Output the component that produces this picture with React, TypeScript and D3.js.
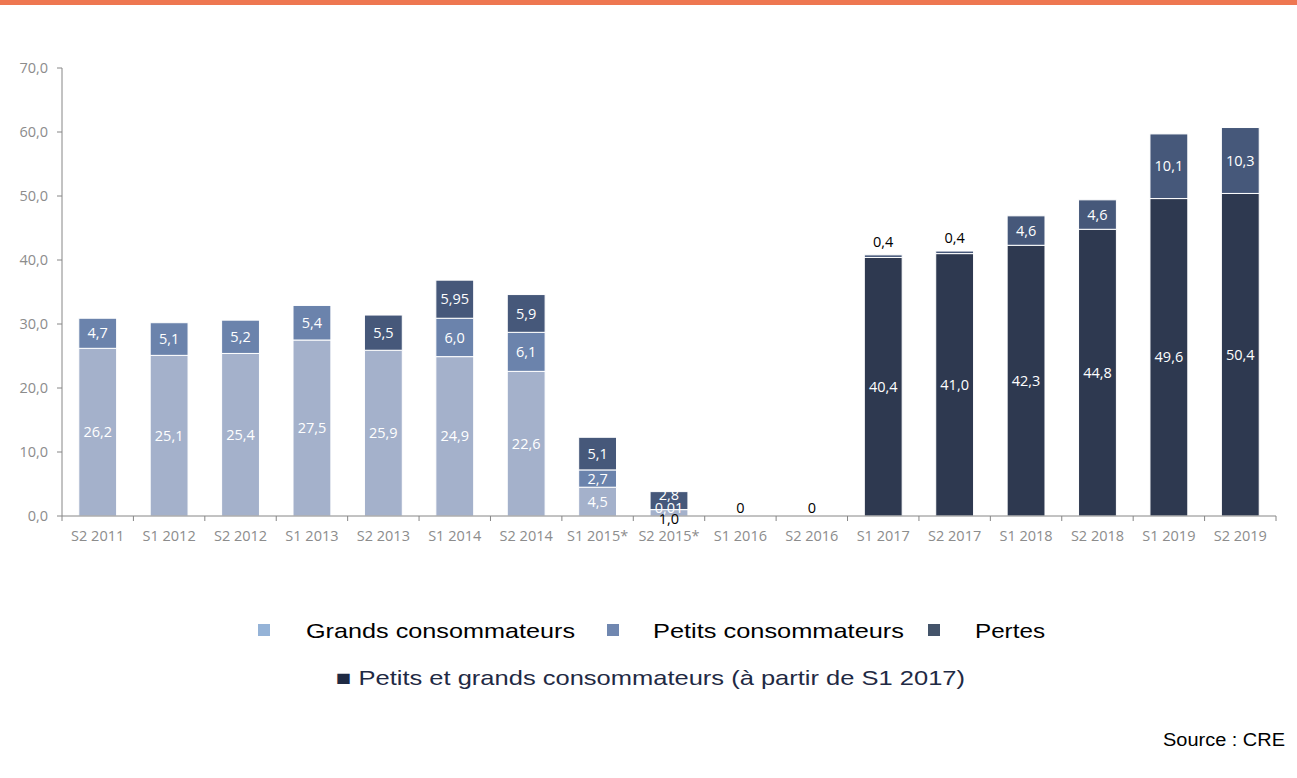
import React from "react";
import * as d3 from "d3";

const categories = ["S2 2011","S1 2012","S2 2012","S1 2013","S2 2013","S1 2014","S2 2014","S1 2015*","S2 2015*","S1 2016","S2 2016","S1 2017","S2 2017","S1 2018","S2 2018","S1 2019","S2 2019"];
const grands = [26.2,25.1,25.4,27.5,25.9,24.9,22.6,4.5,1.0,0,0,0,0,0,0,0,0];
const petits = [4.7,5.1,5.2,5.4,0,6.0,6.1,2.7,0.01,0,0,0,0,0,0,0,0];
const petitsGrands = [0,0,0,0,0,0,0,0,0,0,0,40.4,41.0,42.3,44.8,49.6,50.4];
const pertes = [0,0,0,0,5.5,5.95,5.9,5.1,2.8,0,0,0.4,0.4,4.6,4.6,10.1,10.3];
const zeroLabels = ["S1 2016","S2 2016"];
const yTicks = [0,10,20,30,40,50,60,70];

const seriesKeys = ["grands","petits","petitsGrands","pertes"];
const seriesValues: Record<string, number[]> = { grands, petits, petitsGrands, pertes };
const seriesColors: Record<string,string> = {
  grands: "#A4B1CB",
  petits: "#6B83AC",
  petitsGrands: "#2E3950",
  pertes: "#46587A",
};

const fmt = (v: number) => (Number.isInteger(v) ? v.toFixed(1) : String(v)).replace(".", ",");

export default function App() {
  const W = 1297, H = 778;
  const x = d3.scaleBand<string>().domain(categories).range([62, 1276]).paddingInner(0.47).paddingOuter(0.235);
  const y = d3.scaleLinear().domain([0, 70]).range([516, 68]);
  const rows = categories.map((c, i) => ({ cat: c, grands: grands[i], petits: petits[i], petitsGrands: petitsGrands[i], pertes: pertes[i] }));
  const stack = d3.stack<any>().keys(seriesKeys)(rows);
  const axisFont = "'Open Sans', sans-serif";
  const bw = x.bandwidth();

  const rects: any[] = [];
  const labels: any[] = [];
  stack.forEach((s) => {
    s.forEach((d: any, i: number) => {
      const v = seriesValues[s.key][i];
      if (v <= 0) return;
      const cat = categories[i];
      const x0 = x(cat)!;
      const y0 = y(d[0]), y1 = y(d[1]);
      rects.push(<rect key={s.key + i} x={x0} y={y1} width={bw} height={y0 - y1} fill={seriesColors[s.key]} stroke="#fff" strokeWidth={1} />);
      let ly = (y0 + y1) / 2;
      let color = "#fff";
      const h = y0 - y1;
      if (cat === "S2 2015*") {
        if (s.key === "grands") { ly = y0 + 3; color = "#000"; }
        else if (s.key === "petits") { ly = y1 - 2; }
        else { ly = ly - 6; }
      } else if (h < 8) {
        ly = y1 - 13; color = "#000";
      }
      labels.push(<text key={"l" + s.key + i} x={x0 + bw / 2} y={ly} dy="0.35em" textAnchor="middle" fontSize={14.5} fontFamily={axisFont} fill={color}>{fmt(v)}</text>);
    });
  });

  const step = x.step();
  const boundaries = d3.range(categories.length + 1).map((i) => 62 + i * step);
  const legendFont = "'Liberation Sans', Arial, sans-serif";

  return (
    <svg width={W} height={H} style={{ position: "absolute", left: 0, top: 0, background: "#fff" }}>
      <rect x={0} y={0} width={W} height={5} fill="#EE7751" />
      {/* y axis */}
      <line x1={62} x2={62} y1={y(70)} y2={y(0)} stroke="#868686" strokeWidth={1} />
      {yTicks.map((t) => (
        <g key={t}>
          <line x1={57} x2={62} y1={y(t)} y2={y(t)} stroke="#868686" />
          <text x={48} y={y(t)} dy="0.35em" textAnchor="end" fontSize={14.5} fontFamily={axisFont} fill="#8C8C8C">{t.toFixed(1).replace(".", ",")}</text>
        </g>
      ))}
      {rects}
      {/* x axis */}
      <line x1={62} x2={1276} y1={y(0)} y2={y(0)} stroke="#868686" strokeWidth={1} />
      {boundaries.map((b, i) => (
        <line key={i} x1={b} x2={b} y1={y(0)} y2={y(0) + 5} stroke="#868686" />
      ))}
      {categories.map((c) => (
        <text key={c} x={x(c)! + bw / 2} y={536} dy="0.35em" textAnchor="middle" fontSize={14.5} fontFamily={axisFont} fill="#8C8C8C">{c}</text>
      ))}
      {labels}
      {zeroLabels.map((c) => (
        <text key={"z" + c} x={x(c)! + bw / 2} y={508} dy="0.35em" textAnchor="middle" fontSize={14.5} fontFamily={axisFont} fill="#000">0</text>
      ))}
      {/* legend */}
      <g fontFamily={legendFont} fontSize={21} fill="#000">
        <rect x={258} y={624} width={12} height={12} fill="#95B3D7" />
        <text x={306} y={638} textLength={269} lengthAdjust="spacingAndGlyphs">Grands consommateurs</text>
        <rect x={607} y={624} width={12} height={12} fill="#7087B0" />
        <text x={653} y={638} textLength={251} lengthAdjust="spacingAndGlyphs">Petits consommateurs</text>
        <rect x={928} y={624} width={12} height={12} fill="#44546A" />
        <text x={975} y={638} textLength={70} lengthAdjust="spacingAndGlyphs">Pertes</text>
      </g>
      <text x={336} y={685} fontFamily={legendFont} fontSize={21} fill="#1F2A44" textLength={629} lengthAdjust="spacingAndGlyphs">■ Petits et grands consommateurs (à partir de S1 2017)</text>
      <text x={1163} y={746} fontFamily={legendFont} fontSize={18} fill="#000" textLength={122} lengthAdjust="spacingAndGlyphs">Source : CRE</text>
    </svg>
  );
}
